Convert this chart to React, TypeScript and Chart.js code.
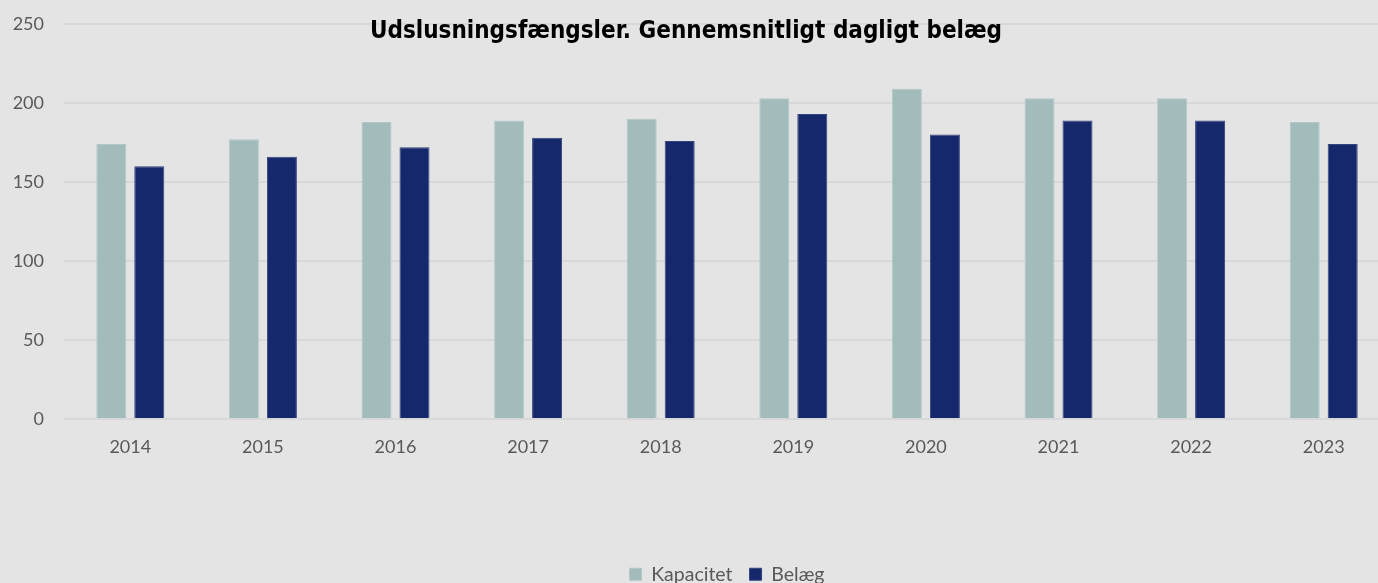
import { useEffect, useRef } from "react";
import { Chart, registerables } from "chart.js";

Chart.register(...registerables);

const categories = ["2014", "2015", "2016", "2017", "2018", "2019", "2020", "2021", "2022", "2023"];
const kapacitet = [174, 177, 188, 189, 190, 203, 209, 203, 203, 188];
const belaeg = [160, 166, 172, 178, 176, 193, 180, 189, 189, 174];
const yTickValues = [0, 50, 100, 150, 200, 250];
const seriesNames = ["Kapacitet", "Belæg"];
const chartTitle = "Udslusningsfængsler. Gennemsnitligt dagligt belæg";

const BG = "#e4e4e4";
const KAP_COLOR = "#a2bcbc";
const BEL_COLOR = "#14286b";
const TEXT_COLOR = "#595959";
const TICK_FONT = { family: "Lato, 'Open Sans', sans-serif", size: 18 };
const LEGEND_FONT = { family: "Lato, 'Open Sans', sans-serif", size: 19.5 };

export default function App() {
  const canvasRef = useRef<HTMLCanvasElement | null>(null);

  useEffect(() => {
    const canvas = canvasRef.current;
    if (!canvas) return;

    const bgPlugin = {
      id: "bgFill",
      beforeDraw(chart: any) {
        const { ctx, width, height } = chart;
        ctx.save();
        ctx.fillStyle = BG;
        ctx.fillRect(0, 0, width, height);
        ctx.restore();
      },
    };

    const titlePlugin = {
      id: "overlayTitle",
      afterDraw(chart: any) {
        const { ctx } = chart;
        ctx.save();
        ctx.font = "bold 24px 'DejaVu Sans Condensed', 'DejaVu Sans', sans-serif";
        ctx.fillStyle = "#000000";
        ctx.textAlign = "center";
        ctx.textBaseline = "alphabetic";
        ctx.fillText(chartTitle, 686, 38);
        ctx.restore();
      },
    };

    const chart = new Chart(canvas, {
      type: "bar",
      data: {
        labels: categories,
        datasets: [
          {
            label: seriesNames[0],
            data: kapacitet,
            backgroundColor: KAP_COLOR,
            borderColor: "#b2c8c7",
            borderWidth: 1,
            categoryPercentage: 0.573,
            barPercentage: 0.79,
          },
          {
            label: seriesNames[1],
            data: belaeg,
            backgroundColor: BEL_COLOR,
            borderColor: "#34437c",
            borderWidth: 1,
            categoryPercentage: 0.573,
            barPercentage: 0.79,
          },
        ],
      },
      options: {
        animation: false,
        responsive: false,
        maintainAspectRatio: false,
        devicePixelRatio: 1,
        layout: { padding: { left: 0, right: 10, top: 24, bottom: 6 } },
        plugins: {
          title: { display: false },
          tooltip: { enabled: false },
          legend: {
            display: true,
            position: "bottom",
            fullSize: false,
            labels: {
              boxWidth: 12,
              boxHeight: 12,
              padding: 17,
              color: TEXT_COLOR,
              font: LEGEND_FONT,
            },
          },
        },
        scales: {
          x: {
            grid: { display: false, drawTicks: false },
            border: { display: false },
            ticks: { color: TEXT_COLOR, font: TICK_FONT, padding: 17 },
            afterFit(scale: any) {
              scale.height = 128.5;
            },
          },
          y: {
            min: 0,
            max: 250,
            afterBuildTicks(scale: any) {
              scale.ticks = yTickValues.map((v) => ({ value: v }));
            },
            grid: { color: "#d8d8d8", lineWidth: 2, drawTicks: false },
            border: { display: false },
            ticks: { color: TEXT_COLOR, font: TICK_FONT, padding: 20 },
            afterFit(scale: any) {
              scale.width = 64;
              scale.paddingTop = 10;
              scale.paddingBottom = 10;
            },
          },
        },
      },
      plugins: [bgPlugin, titlePlugin],
    });

    return () => chart.destroy();
  }, []);

  return (
    <div
      style={{
        position: "fixed",
        left: 0,
        top: 0,
        width: 1378,
        height: 583,
        overflow: "hidden",
        background: BG,
      }}
    >
      <canvas ref={canvasRef} width={1400} height={600} style={{ display: "block", width: 1400, height: 600 }} />
    </div>
  );
}
